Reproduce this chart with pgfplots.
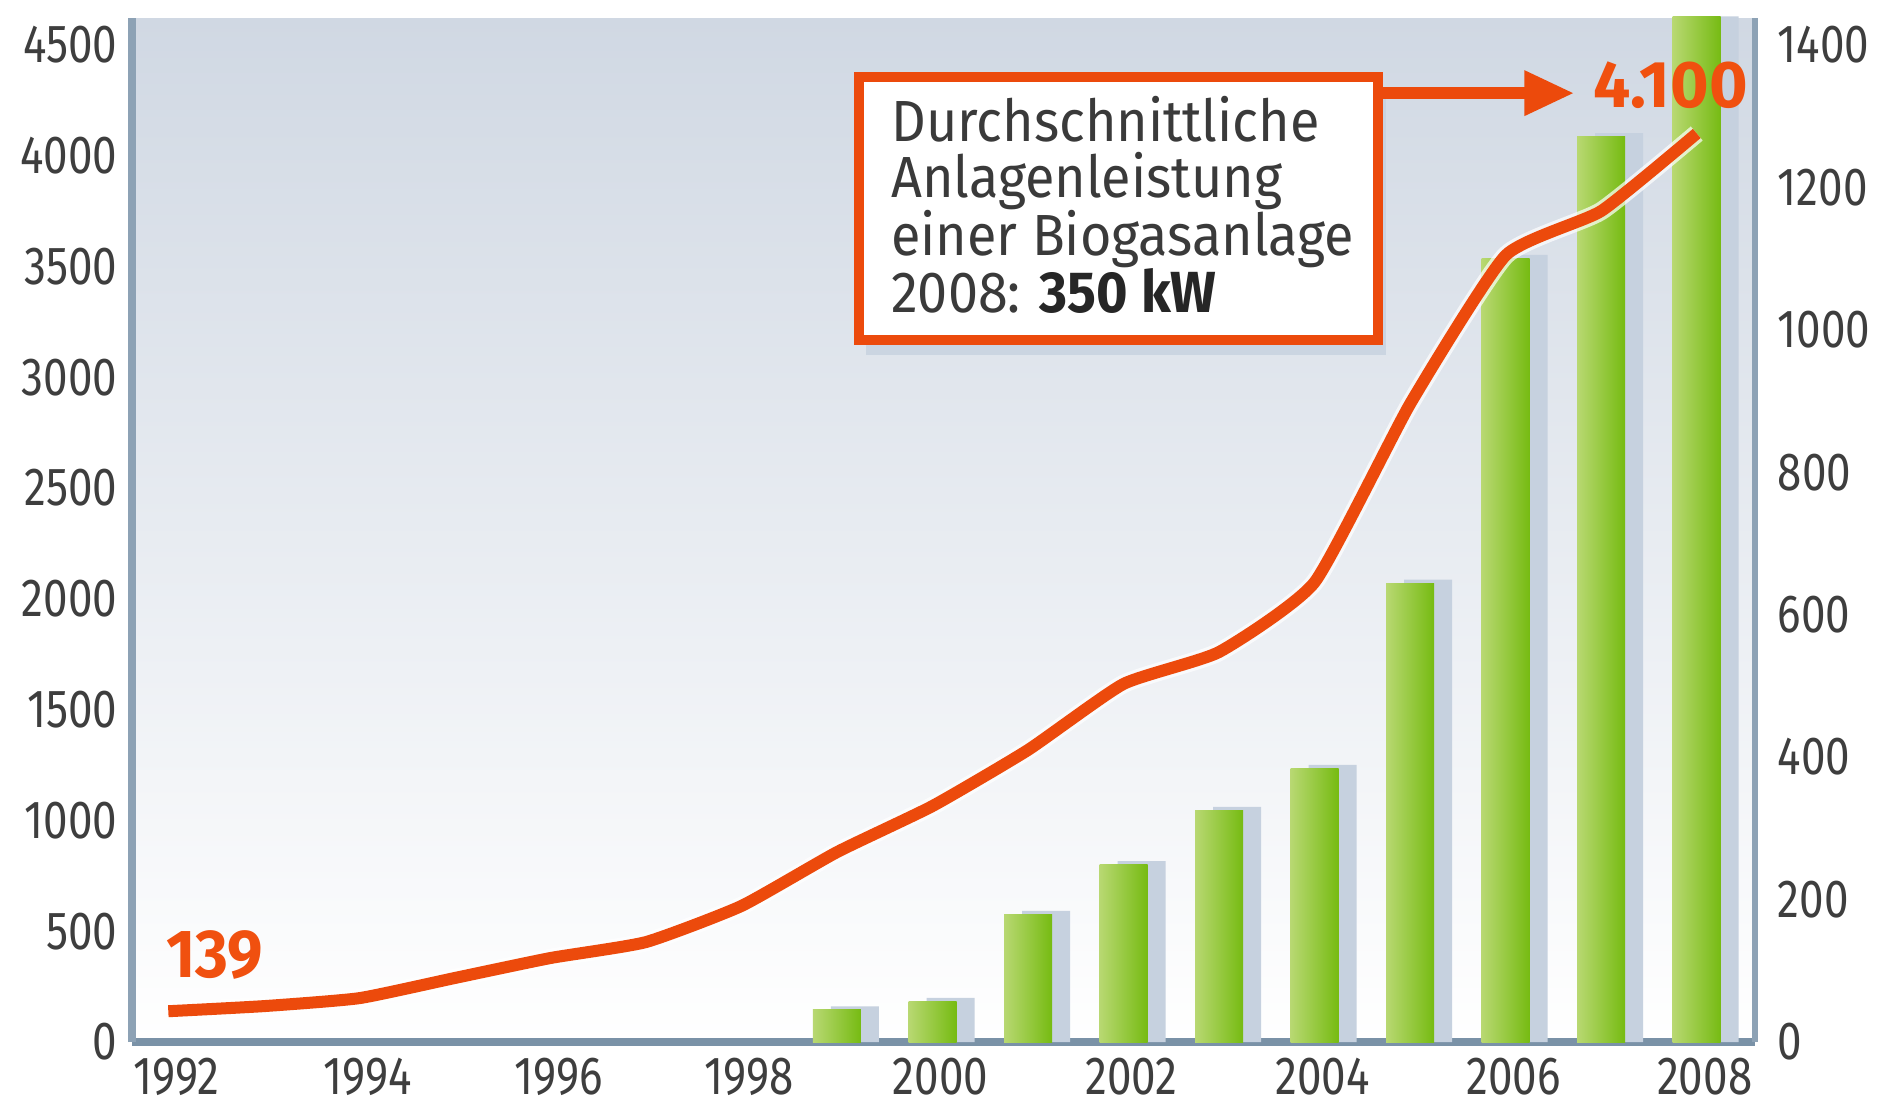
\documentclass[border=0pt]{standalone}
\usepackage{pgfplots}
\pgfplotsset{compat=1.18}
\usepackage{pgfplotstable}
\usetikzlibrary{arrows.meta}
\usepackage{fontspec}
\setmainfont{Fira Sans}[FakeStretch=0.82]
\newfontfamily\boxfont{Fira Sans}[FakeStretch=0.93]
\newfontfamily\numfont{Fira Sans}
\definecolor{lineor}{HTML}{EC4A0C}
\definecolor{txtor}{HTML}{F0500F}
\definecolor{axc}{HTML}{8DA2B5}
\definecolor{axb}{HTML}{7A92A7}
\definecolor{bgtop}{HTML}{D0D8E3}
\definecolor{barL}{HTML}{B8D872}
\definecolor{barR}{HTML}{76BB12}
\definecolor{shad}{HTML}{C6D1DF}
\definecolor{tick}{HTML}{3E3E3E}
\definecolor{boxtxt}{HTML}{3A3A3A}

\pgfplotstableread{
year plants
1992 139
1993 162
1994 198
1995 289
1996 379
1997 451
1998 614
1999 857
2000 1065
2001 1318
2002 1616
2003 1760
2004 2075
2005 2880
2006 3550
2007 3750
2008 4100
}\plants

\pgfplotstableread{
year mw
1999 50
2000 62
2001 184
2002 254
2003 330
2004 389
2005 649
2006 1105
2007 1276
2008 1440
}\capshadow

\begin{document}
\begin{tikzpicture}
\useasboundingbox (-33pt,-16.5pt) rectangle (437.25pt,260.5pt);
% bars, right axis
\begin{axis}[
  at={(0,0)}, anchor=south west, scale only axis,
  width=405.75pt, height=256pt,
  xmin=1991.62, xmax=2008.61, ymin=0, ymax=1437.6,
  clip=false,
  axis background/.style={shade, top color=bgtop, bottom color=white},
  axis x line*=bottom, axis y line*=right,
  x axis line style={draw=axb, line width=2pt, -},
  y axis line style={draw=axc, line width=1.7pt, -},
  major tick length=0pt, tick style={draw=none},
  xtick={1992,1994,1996,1998,2000,2002,2004,2006,2008},
  xticklabels={1992,1994,1996,1998,2000,2002,2004,2006,2008},
  ytick={0,200,400,600,800,1000,1200,1400},
  yticklabels={0,200,400,600,800,1000,1200,1400},
  every tick label/.append style={inner sep=0pt, text=tick, font=\fontsize{13.4}{14}\selectfont},
  xticklabel style={yshift=-3.8pt, xshift=2pt},
  yticklabel style={xshift=5.5pt},
  greenbar/.style={ybar, bar width=12pt, bar shift=0pt, draw=none, left color=barL, right color=barR},
]
\addplot[ybar, bar width=12pt, bar shift=4.5pt, fill=shad, draw=none] table[x=year,y=mw] {\capshadow};
\addplot[greenbar] coordinates {(1999,45)};
\addplot[greenbar] coordinates {(2000,57)};
\addplot[greenbar] coordinates {(2001,179)};
\addplot[greenbar] coordinates {(2002,249)};
\addplot[greenbar] coordinates {(2003,325)};
\addplot[greenbar] coordinates {(2004,384)};
\addplot[greenbar] coordinates {(2005,644)};
\addplot[greenbar] coordinates {(2006,1100)};
\addplot[greenbar] coordinates {(2007,1271)};
\addplot[greenbar] coordinates {(2008,1440)};
\end{axis}
% line, left axis
\begin{axis}[
  at={(0,0)}, anchor=south west, scale only axis,
  width=405.75pt, height=256pt,
  xmin=1991.62, xmax=2008.61, ymin=0, ymax=4621,
  clip=false,
  axis x line=none, axis y line*=left,
  y axis line style={draw=axc, line width=2pt, -},
  major tick length=0pt, tick style={draw=none},
  ytick={0,500,1000,1500,2000,2500,3000,3500,4000,4500},
  yticklabels={0,500,1000,1500,2000,2500,3000,3500,4000,4500},
  every tick label/.append style={inner sep=0pt, text=tick, font=\fontsize{13.4}{14}\selectfont},
  yticklabel style={xshift=-3.5pt},
]
\addplot[white, opacity=0.7, line width=4.6pt, smooth, tension=0.3, line join=round] table[x=year,y=plants] {\plants};
\addplot[lineor, line width=3pt, smooth, tension=0.3, line join=round] table[x=year,y=plants] {\plants};

\node[anchor=base west, inner sep=0pt, text=txtor, font=\boxfont\fontsize{17}{18}\selectfont\bfseries] at (axis cs:1991.97,293) {139};
\node[anchor=base west, inner sep=0pt, text=txtor, font=\numfont\fontsize{16.5}{18}\selectfont\bfseries] at (axis cs:2006.91,4219) {4.100};

\fill[shad, opacity=0.8] (axis cs:1999.3,4300) rectangle (axis cs:2004.75,3100);
\draw[draw=lineor, line width=2.5pt, fill=white] (axis cs:1999.23,4355) rectangle (axis cs:2004.66,3168);
\draw[lineor, line width=3pt, -{Triangle[width=10.5pt,length=12.5pt]}] (axis cs:2004.72,4282) -- (axis cs:2006.72,4282);

\begin{scope}[every node/.style={anchor=base west, inner sep=0pt, text=boxtxt, font=\boxfont\fontsize{14.5}{15}\selectfont}]
\node at (axis cs:1999.56,4066) {Durchschnittliche};
\node at (axis cs:1999.56,3809) {Anlagenleistung};
\node at (axis cs:1999.56,3551) {einer Biogasanlage};
\node at (axis cs:1999.56,3294) {2008: \textcolor{black!85}{\textbf{350 kW}}};
\end{scope}
\end{axis}
\end{tikzpicture}
\end{document}
